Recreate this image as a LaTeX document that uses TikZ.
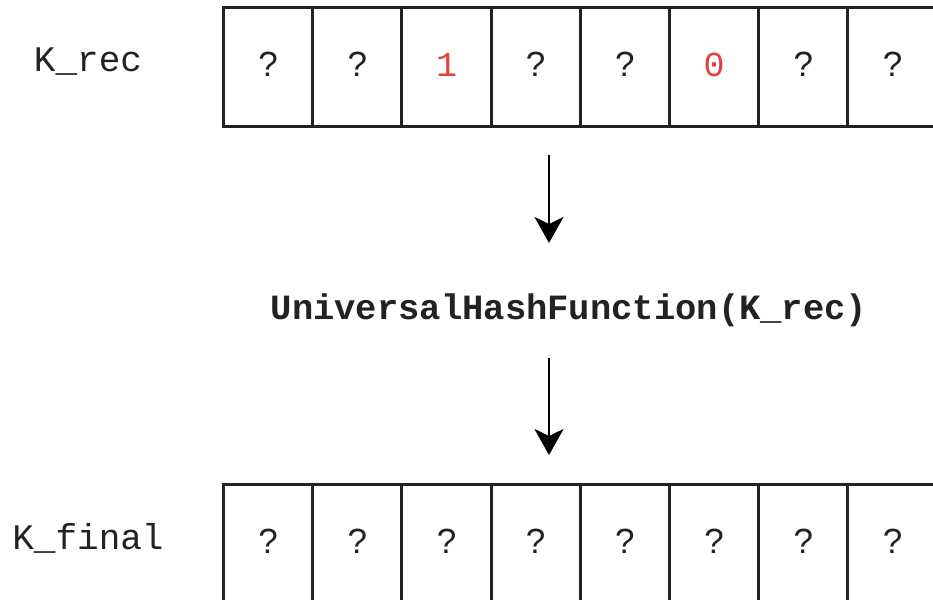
\documentclass[tikz,border=0pt]{standalone}
\usepackage{fontspec}
\setmainfont{Liberation Sans}
\newfontfamily\monofont{Liberation Mono}
\usetikzlibrary{arrows.meta}
\definecolor{bitred}{HTML}{E53E3E}
\definecolor{ink}{HTML}{222222}
\tikzset{
  cell/.style={draw=ink, line width=3pt, minimum width=89.2pt, minimum height=119pt, inner sep=0pt, text height=25pt, text depth=6pt, anchor=north west, text=ink, font=\fontsize{35}{40}\selectfont},
  redbit/.style={text=bitred, font=\monofont\fontsize{35}{40}\selectfont},
  rowlabel/.style={text=ink, font=\monofont\fontsize{36}{40}\selectfont, inner sep=0pt},
  title/.style={text=ink, font=\monofont\bfseries\fontsize{35.5}{40}\selectfont, inner sep=0pt},
  flow/.style={draw=black, line width=2.7pt, -{Stealth[length=26pt, width=29pt, inset=7pt]}}
}
\begin{document}
\begin{tikzpicture}[x=1pt, y=-1pt]
\useasboundingbox (0,0) rectangle (933,599);
\clip (0,0) rectangle (933,599);
% top row
\foreach \i/\t in {1/?,2/?,4/?,5/?,7/?,8/?} {
  \node[cell] (r\i) at ({222+(\i-1)*89.2},6) {\t};
}
\node[cell, redbit] (r3) at ({222+2*89.2},6) {1};
\node[cell, redbit] (r6) at ({222+5*89.2},6) {0};
% bottom row
\foreach \i in {1,...,8} {
  \node[cell] (f\i) at ({222+(\i-1)*89.2},483) {?};
}
\node[rowlabel] (lrec) at (88,62) {K\_rec};
\node[rowlabel] (lfinal) at (88,538) {K\_final};
\node[title] (hash) at (569,310) {UniversalHashFunction(K\_rec)};
\coordinate (a1s) at (549,155);
\coordinate (a1e) at (549,243);
\coordinate (a2s) at (549,358);
\coordinate (a2e) at (549,455);
\draw[flow] (a1s) -- (a1e);
\draw[flow] (a2s) -- (a2e);
\end{tikzpicture}
\end{document}
